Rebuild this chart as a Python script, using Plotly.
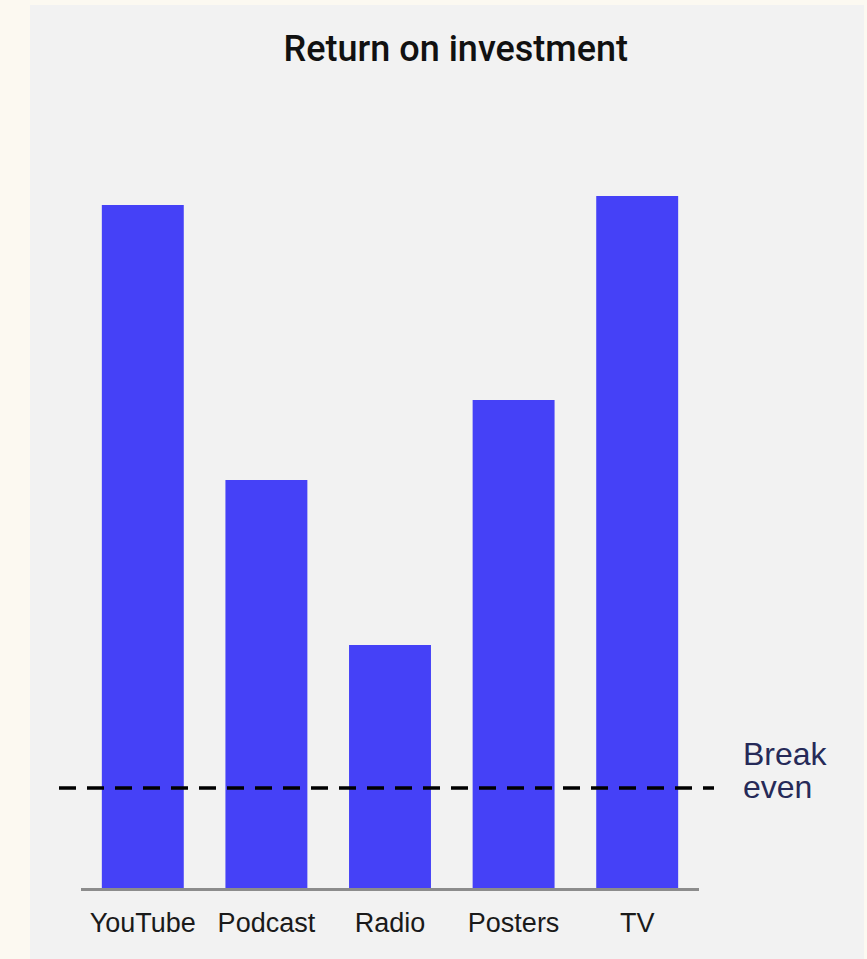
import plotly.graph_objects as go

categories = ["YouTube", "Podcast", "Radio", "Posters", "TV"]
roi_values = [6.83, 4.08, 2.43, 4.88, 6.92]
break_even = 1.0
title_text = "Return on investment"
break_even_label = ["Break", "even"]

W, H = 867, 959
L, R, T, B = 81, 168, 100, 71
plot_w = W - L - R
plot_h = H - T - B
y_max = 7.88

def px_x(px):
    return (px - L) / plot_w

def px_y(py):
    return (H - B - py) / plot_h

bar_color = "#4541f7"

fig = go.Figure(
    go.Bar(
        x=categories,
        y=roi_values,
        marker=dict(color=bar_color, line=dict(width=0)),
        hoverinfo="skip",
    )
)

shapes = [
    # light grey panel
    dict(type="rect", xref="paper", yref="paper",
         x0=px_x(30), x1=px_x(864), y0=px_y(960), y1=px_y(5),
         fillcolor="#f2f2f2", line=dict(width=0), layer="below"),
    # break-even dashed line
    dict(type="line", xref="paper", yref="paper",
         x0=px_x(59), x1=px_x(714),
         y0=break_even / y_max, y1=break_even / y_max,
         line=dict(color="#000000", width=3.5, dash="17px,11px")),
]

annotations = [
    dict(text=break_even_label[0], xref="paper", yref="paper",
         x=px_x(741), y=px_y(754), xanchor="left", yanchor="middle",
         showarrow=False, font=dict(family="Arial", size=32, color="#262a58")),
    dict(text=break_even_label[1], xref="paper", yref="paper",
         x=px_x(741), y=px_y(787), xanchor="left", yanchor="middle",
         showarrow=False, font=dict(family="Arial", size=32, color="#262a58")),
]

fig.update_layout(
    width=W, height=H,
    margin=dict(l=L, r=R, t=T, b=B, pad=0),
    paper_bgcolor="#fcf9f1",
    plot_bgcolor="#f2f2f2",
    showlegend=False,
    bargap=0.337,
    title=dict(text=title_text, xref="container", yref="container",
               x=455.8 / W, y=1 - 48 / H, xanchor="center", yanchor="middle",
               font=dict(family="Roboto", size=36, color="#111111", weight=500)),
    shapes=shapes,
    annotations=annotations,
    xaxis=dict(
        range=[-0.5, 4.5],
        showline=True, linecolor="#8c8c8c", linewidth=2.5,
        showgrid=False, zeroline=False, ticks="",
        ticklabelstandoff=9,
        tickfont=dict(family="Arial", size=27, color="#1a1a1a"),
    ),
    yaxis=dict(
        range=[0, y_max],
        showline=False, showgrid=False, zeroline=False,
        showticklabels=False, ticks="",
    ),
)

fig.write_html("out.html")
